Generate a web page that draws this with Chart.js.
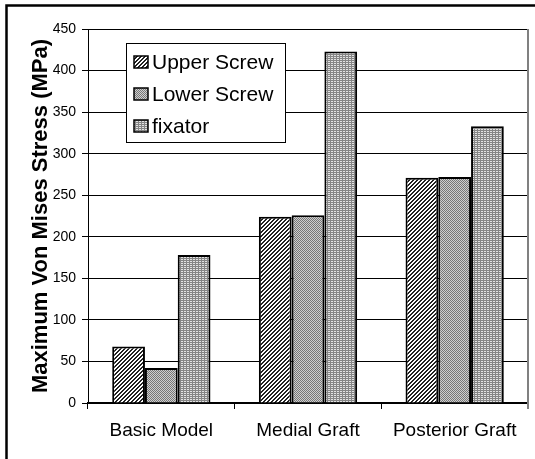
<!DOCTYPE html>
<html>
<head>
<meta charset="utf-8">
<script src="https://cdn.jsdelivr.net/npm/chart.js@4/dist/chart.umd.min.js"></script>
<style>
  html, body { margin: 0; padding: 0; background: #fff; }
  canvas { display: block; }
</style>
</head>
<body>
<canvas id="stress" width="535" height="459"></canvas>
<script>
const categories = ["Basic Model", "Medial Graft", "Posterior Graft"];
const seriesNames = ["Upper Screw", "Lower Screw", "fixator"];
const upperScrew = [68, 224, 271];
const lowerScrew = [42, 226, 272];
const fixator = [178, 423, 333];
const yMin = 0;
const yMax = 450;
const yStep = 50;
const yTitle = "Maximum Von Mises Stress (MPa)";
const FONT = "Arial, 'Liberation Sans', sans-serif";

// small bitmap fills like the old office hatch patterns
function makePattern(kind) {
  const c = document.createElement("canvas");
  const g = c.getContext("2d");
  if (kind === "diag") {
    c.width = 4; c.height = 4;
    g.fillStyle = "#fff";
    g.fillRect(0, 0, 4, 4);
    g.fillStyle = "#222";
    for (let y = 0; y < 4; y++)
      for (let x = 0; x < 4; x++)
        if ((x + y) % 4 < 2) g.fillRect(x, y, 1, 1);
  } else if (kind === "dots") {
    c.width = 2; c.height = 2;
    g.fillStyle = "#cfcfcf";
    g.fillRect(0, 0, 2, 2);
    g.fillStyle = "#777";
    g.fillRect(0, 0, 1, 1);
    g.fillRect(1, 1, 1, 1);
  } else {
    c.width = 3; c.height = 2;
    g.fillStyle = "#858585";
    g.fillRect(0, 0, 3, 2);
    g.fillStyle = "#e2e2e2";
    g.fillRect(1, 1, 2, 1);
  }
  return g.createPattern(c, "repeat");
}
const fills = [makePattern("diag"), makePattern("dots"), makePattern("grid")];

const frame = {
  id: "frame",
  beforeDraw(chart) {
    const ctx = chart.ctx;
    ctx.save();
    ctx.fillStyle = "#fff";
    ctx.fillRect(0, 0, chart.width, chart.height);
    ctx.strokeStyle = "#000";
    ctx.lineWidth = 2.5;
    ctx.beginPath();
    ctx.moveTo(6.5, chart.height);
    ctx.lineTo(6.5, 5.5);
    ctx.lineTo(chart.width, 5.5);
    ctx.stroke();
    ctx.restore();
  },
  afterDraw(chart) {
    const ctx = chart.ctx;
    const a = chart.chartArea;
    ctx.save();
    // right edge of plot area
    ctx.strokeStyle = "#808080";
    ctx.lineWidth = 2;
    ctx.beginPath();
    ctx.moveTo(a.right, a.top);
    ctx.lineTo(a.right, a.bottom + 6);
    ctx.stroke();
    // legend box inside the plot
    const bx = 126, by = 43, bw = 159, bh = 99;
    ctx.fillStyle = "#fff";
    ctx.fillRect(bx, by, bw, bh);
    ctx.strokeStyle = "#000";
    ctx.lineWidth = 1;
    ctx.strokeRect(bx + 0.5, by + 0.5, bw, bh);
    ctx.font = "21px " + FONT;
    ctx.textBaseline = "middle";
    chart.data.datasets.forEach((ds, i) => {
      const cy = by + 19 + i * 32;
      ctx.fillStyle = ds.backgroundColor;
      ctx.fillRect(134, cy - 6, 14, 12);
      ctx.strokeStyle = "#000";
      ctx.lineWidth = 1.5;
      ctx.strokeRect(134, cy - 6, 14, 12);
      ctx.fillStyle = "#000";
      ctx.fillText(ds.label, 152, cy + 1);
    });
    ctx.restore();
  }
};

const datasets = [upperScrew, lowerScrew, fixator].map((vals, i) => ({
  label: seriesNames[i],
  data: vals,
  backgroundColor: fills[i],
  borderColor: "#000",
  borderWidth: 2,
  categoryPercentage: 0.67,
  barPercentage: 1.0
}));

new Chart(document.getElementById("stress"), {
  type: "bar",
  data: { labels: categories, datasets },
  options: {
    responsive: false,
    animation: false,
    layout: { padding: { left: 0, top: 29, right: 7, bottom: 0 } },
    plugins: {
      legend: { display: false },
      tooltip: { enabled: false }
    },
    scales: {
      x: {
        offset: true,
        grid: {
          offset: true,
          drawOnChartArea: false,
          color: "#000",
          tickLength: 6
        },
        border: { color: "#000", width: 1.5 },
        ticks: {
          color: "#000",
          font: { family: FONT, size: 19 },
          padding: 10,
          maxRotation: 0
        },
        afterFit(scale) { scale.height = 56; }
      },
      y: {
        min: yMin,
        max: yMax,
        grid: { color: "#000", lineWidth: 1, tickLength: 6 },
        border: { color: "#000", width: 1 },
        ticks: {
          stepSize: yStep,
          color: "#000",
          font: { family: FONT, size: 14 },
          padding: 6
        },
        title: {
          display: true,
          text: yTitle,
          color: "#000",
          font: { family: FONT, size: 22, weight: "bold" },
          padding: { top: 28, bottom: 0 }
        },
        afterFit(scale) { scale.width = 88; }
      }
    }
  },
  plugins: [frame]
});
</script>
</body>
</html>
